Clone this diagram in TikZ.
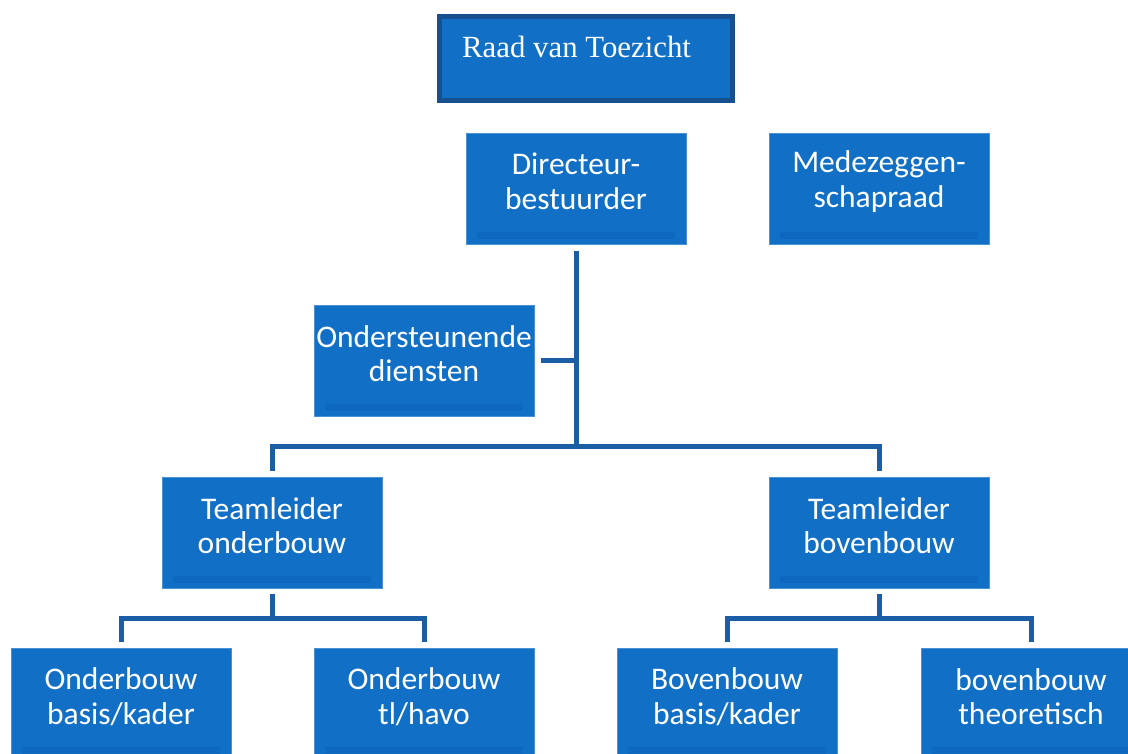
\documentclass[tikz,border=0pt]{standalone}
\usepackage{fontspec}
\setmainfont{Carlito}
\newfontfamily\serifraad{Liberation Serif}
\definecolor{boxfill}{HTML}{1170C6}
\definecolor{boxedge}{HTML}{4A90D4}
\definecolor{stripc}{HTML}{0E69BE}
\definecolor{connc}{HTML}{1B5EA6}
\definecolor{raadedge}{HTML}{17508E}
\tikzset{
  box/.style={rectangle, fill=boxfill, draw=boxedge, line width=0.6pt,
    minimum width=220pt, minimum height=111pt, inner sep=0pt,
    path picture={\fill[stripc] ([xshift=11pt,yshift=5pt]path picture bounding box.south west) rectangle ([xshift=-11pt,yshift=12pt]path picture bounding box.south east);}},
  txt/.style={text=white, align=center, inner sep=0pt, font=\fontsize{31.5}{34.5}\selectfont},
  raadbox/.style={rectangle, fill=boxfill, draw=raadedge, line width=5pt,
    minimum width=293pt, minimum height=84pt, inner sep=0pt},
  raadtxt/.style={text=white, inner sep=0pt, anchor=west, font=\serifraad\fontsize{30.8}{34}\selectfont},
  conn/.style={draw=connc, line width=5pt, line join=miter}
}
\begin{document}
\begin{tikzpicture}[x=1pt,y=-1pt]
\useasboundingbox (0,0) rectangle (1128,753);
\clip (0,0) rectangle (1128,753);
% Raad van Toezicht
\node[raadbox] (raad) at (586,58.5) {};
\node[raadtxt] (raadT) at (462,47) {Raad van Toezicht};
% boxes
\node[box] (dir) at (576,188.5) {};
\node[txt] (dirT) at ([yshift=7pt]dir.center) {Directeur-\\bestuurder};
\node[box] (mr) at (879,188.5) {};
\node[txt] (mrT) at ([yshift=7pt]mr.center) {Medezeggen-\\schapraad};
\node[box] (ond) at (424,360.5) {};
\node[txt] (ondT) at ([yshift=7pt]ond.center) {Ondersteunende\\diensten};
\node[box] (tlo) at (272,532.5) {};
\node[txt] (tloT) at ([yshift=7pt]tlo.center) {Teamleider\\onderbouw};
\node[box] (tlb) at (879,532.5) {};
\node[txt] (tlbT) at ([yshift=7pt]tlb.center) {Teamleider\\bovenbouw};
\node[box] (ob1) at (121,703.5) {};
\node[txt] (ob1T) at ([yshift=7pt]ob1.center) {Onderbouw\\basis/kader};
\node[box] (ob2) at (424,703.5) {};
\node[txt] (ob2T) at ([yshift=7pt]ob2.center) {Onderbouw\\tl/havo};
\node[box] (bb1) at (727,703.5) {};
\node[txt] (bb1T) at ([yshift=7pt]bb1.center) {Bovenbouw\\basis/kader};
\node[box] (bb2) at (1031,703.5) {};
\node[txt] (bb2T) at ([yshift=7pt]bb2.center) {bovenbouw\\theoretisch};
% connectors
\coordinate (j1) at (576,446);
\coordinate (j2) at (272,618);
\coordinate (j3) at (879,618);
\draw[conn] ([yshift=-7pt]dir.south) -- (j1);
\draw[conn] ([xshift=7pt]ond.east) -- (ond.east -| j1);
\draw[conn] ([yshift=6pt]tlo.north) -- (tlo.north |- j1) -- (tlb.north |- j1) -- ([yshift=6pt]tlb.north);
\draw[conn] ([yshift=-6pt]tlo.south) -- (j2);
\draw[conn] ([yshift=6pt]ob1.north) -- (ob1.north |- j2) -- (ob2.north |- j2) -- ([yshift=6pt]ob2.north);
\draw[conn] ([yshift=-6pt]tlb.south) -- (j3);
\draw[conn] ([yshift=6pt]bb1.north) -- (bb1.north |- j3) -- (bb2.north |- j3) -- ([yshift=6pt]bb2.north);
\end{tikzpicture}
\end{document}
